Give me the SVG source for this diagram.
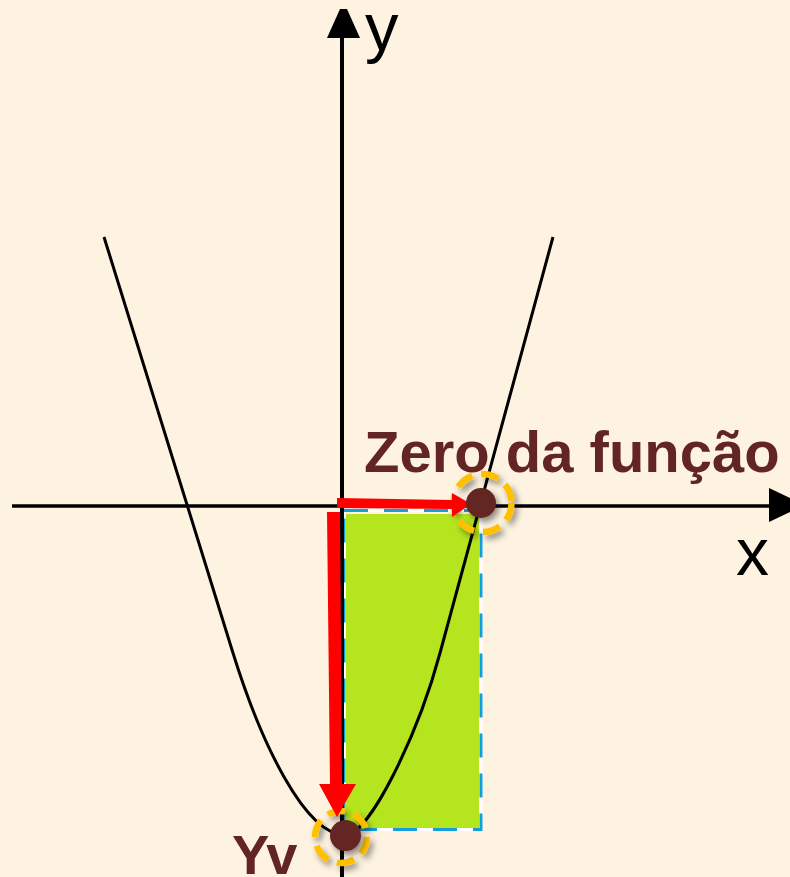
<svg xmlns="http://www.w3.org/2000/svg" width="790" height="877" viewBox="0 0 790 877">
<defs>
<style>
.axis{stroke:#000;fill:none}
.curve{stroke:#000;stroke-width:3;fill:none;stroke-linejoin:round}
.red{fill:#FF0000}
.dot{fill:#632523}
.halo{fill:none;stroke:#FFC000;stroke-width:6.5;stroke-dasharray:18 9}
.lbl{font-family:"Liberation Sans",Arial,sans-serif;font-weight:bold;fill:#632523}
.ax{font-family:"Liberation Sans",Arial,sans-serif;fill:#000}
</style>
<filter id="sh" x="-50%" y="-50%" width="200%" height="200%">
<feDropShadow dx="3" dy="4" stdDeviation="3" flood-color="#000" flood-opacity="0.45"/>
</filter>
</defs>
<rect x="0" y="0" width="790" height="877" fill="#FEF3E1"/>
<g id="area">
<rect x="346" y="514" width="133" height="314" fill="#B5E51E"/>
<rect x="344" y="510.5" width="137" height="319" fill="none" stroke="#FFFFFF" stroke-width="3"/>
<rect x="344" y="510.5" width="137" height="319" fill="none" stroke="#139EDC" stroke-width="3" stroke-dasharray="24 16"/>
</g>
<g id="axes">
<line class="axis" x1="342" y1="36" x2="342" y2="877" stroke-width="4"/>
<polygon points="340,9 347,9 360,38 327,38" fill="#000"/>
<line class="axis" x1="12" y1="506" x2="772" y2="506" stroke-width="3.5"/>
<polygon points="769,488 805,505 769,522" fill="#000"/>
<text class="ax" x="365" y="50" font-size="67">y</text>
<text class="ax" x="736" y="575" font-size="66">x</text>
</g>
<g id="parabola">
<path class="curve" d="M104,237 L233,653 C261,743 305,835 345,835 C370,835 418.5,733 440,653 L553,237"/>
</g>
<g id="zero-halo" filter="url(#sh)">
<circle class="halo" cx="482.5" cy="503" r="29"/>
</g>
<g id="yv-halo" filter="url(#sh)">
<circle class="halo" cx="341" cy="837" r="26"/>
</g>
<g id="connectors">
<polygon class="red" points="337,498 452,500 452,493 471,504 452,517 452,509 337,508"/>
<polygon class="red" points="327,512 340,512 342,784 356,784 337,817 319,784 330,784"/>
</g>
<g id="zero" filter="url(#sh)">
<circle class="dot" cx="481" cy="503" r="15"/>
</g>
<g id="yv" filter="url(#sh)">
<circle class="dot" cx="345.5" cy="835.5" r="15.5"/>
</g>
<g id="labels">
<text class="lbl" x="364" y="472" font-size="58">Zero da função</text>
<text class="lbl" x="232" y="874" font-size="56">Yv</text>
</g>
</svg>
